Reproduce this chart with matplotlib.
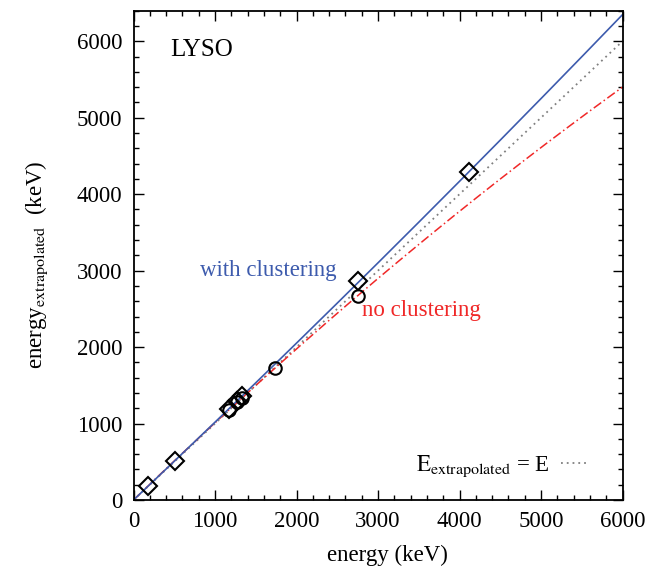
import numpy as np
import matplotlib
matplotlib.use("Agg")
import matplotlib.pyplot as plt
from matplotlib.ticker import MultipleLocator

plt.rcParams["font.family"] = ["Liberation Serif", "DejaVu Serif"]
plt.rcParams["mathtext.fontset"] = "stix"

# measured peaks
with_x = [175, 511, 1173, 1274, 1332, 2750, 4120]
with_y = [177, 516, 1192, 1298, 1358, 2862, 4290]
no_x = [1173, 1274, 1332, 1730, 2750]
no_y = [1178, 1280, 1336, 1722, 2665]

# quadratic calibration fits (coefficients for x^2, x, 1)
fit_with = [8.0e-6, 1.01, 0.0]
fit_no = [-2.2e-5, 1.032, 0.0]

blue = "#3D5BAD"
red = "#F02828"
grey = "#808080"
fs = 16.5

fig = plt.figure(figsize=(6.5, 5.74), dpi=100)
ax = fig.add_axes([0.2054, 0.1289, 0.7523, 0.8525])

e = np.linspace(0, 6000, 300)
ax.plot(e, e, ls=(0, (1, 2.2)), color=grey, lw=1.3,
        label=r"$\mathrm{E}_{\mathrm{extrapolated}}$ = E")
ax.plot(e, np.polyval(fit_no, e), ls=(0, (6, 2, 1, 2)), color=red, lw=1.1)
ax.plot(e, np.polyval(fit_with, e), ls="-", color=blue, lw=1.2)

ax.plot(no_x, no_y, ls="none", marker="o", ms=9, mfc="none", mec="black", mew=1.5)
ax.plot(with_x, with_y, ls="none", marker="D", ms=9, mfc="none", mec="black", mew=1.5)

ax.set_xlim(0, 6000)
ax.set_ylim(0, 6400)
ax.xaxis.set_major_locator(MultipleLocator(1000))
ax.xaxis.set_minor_locator(MultipleLocator(200))
ax.yaxis.set_major_locator(MultipleLocator(1000))
ax.yaxis.set_minor_locator(MultipleLocator(200))
ax.tick_params(which="both", direction="in", top=True, right=True, labelsize=fs)
ax.tick_params(which="major", length=7, width=1)
ax.tick_params(which="minor", length=3.5, width=1)
ax.tick_params(axis="x", pad=8)
ax.tick_params(axis="y", pad=8)
for s in ax.spines.values():
    s.set_linewidth(1.3)

ax.set_xlabel("energy (keV)", fontsize=fs)
ax.xaxis.set_label_coords(0.52, -0.092)
ax.set_ylabel(r"energy$_{\mathrm{extrapolated}}$  (keV)", fontsize=fs)
ax.yaxis.set_label_coords(-0.17, 0.48)

ax.text(450, 5890, "LYSO", fontsize=18, ha="left", va="center")
ax.text(810, 3000, "with clustering", fontsize=fs, color=blue, ha="left", va="center")
ax.text(2800, 2475, "no clustering", fontsize=fs, color=red, ha="left", va="center")

leg = ax.legend(loc="lower right", bbox_to_anchor=(0.972, 0.0), frameon=False,
                markerfirst=False, fontsize=fs, handlelength=1.2, handletextpad=0.5)

fig.savefig("out.png", dpi=100)
